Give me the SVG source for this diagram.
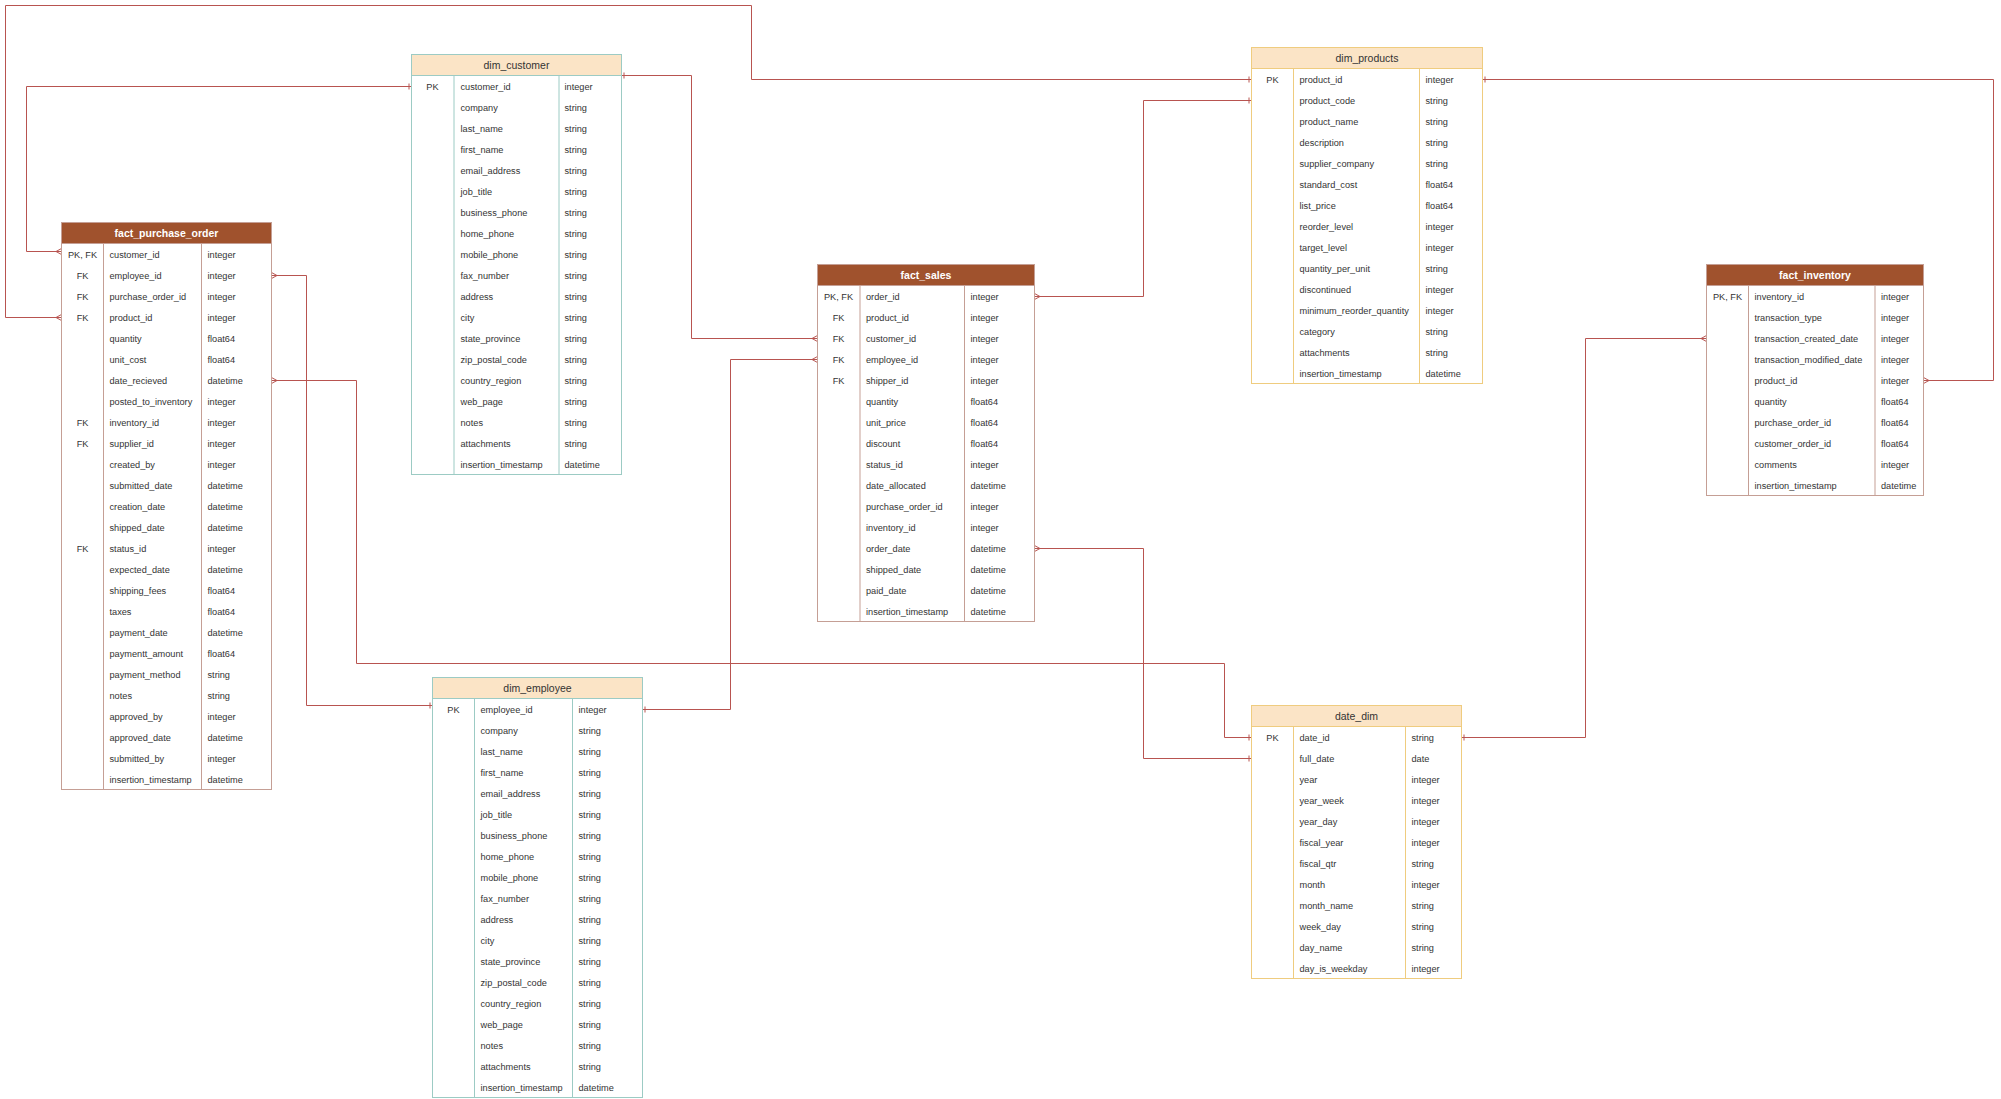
<svg xmlns="http://www.w3.org/2000/svg" width="2001" height="1099" viewBox="0 0 2001 1099">
  <style>
    text { font-family: "Liberation Sans", Arial, sans-serif; fill: #333333; }
    .cell { font-size: 9.2px; dominant-baseline: central; }
    .key { text-anchor: middle; }
    .title { font-size: 10.5px; text-anchor: middle; dominant-baseline: central; }
    .fact .title { fill: #ffffff; font-weight: bold; }
    .fact .frame { fill: #ffffff; stroke: #c59f95; stroke-width: 1; }
    .fact .head { fill: #a0522d; stroke: #c59f95; stroke-width: 1; }
    .fact .div { stroke: #c59f95; stroke-width: 1; }
    .teal .frame { fill: #ffffff; stroke: #9ccbc4; stroke-width: 1; }
    .teal .head { fill: #fbe4c6; stroke: #9ccbc4; stroke-width: 1; }
    .teal .div { stroke: #9ccbc4; stroke-width: 1; }
    .gold .frame { fill: #ffffff; stroke: #efcc7f; stroke-width: 1; }
    .gold .head { fill: #fbe4c6; stroke: #efcc7f; stroke-width: 1; }
    .gold .div { stroke: #efcc7f; stroke-width: 1; }
    .rel { fill: none; stroke: #b85450; stroke-width: 1; marker-start: url(#one); marker-end: url(#many); }
  </style>
  <defs>
    <!-- single bar at the "one" side -->
    <marker id="one" markerUnits="userSpaceOnUse" orient="auto-start-reverse" markerWidth="10" markerHeight="10" refX="0" refY="0" viewBox="-5 -5 10 10" overflow="visible">
      <path d="M-2.5,-3 L-2.5,3" stroke="#b85450" stroke-width="1" fill="none"/>
    </marker>
    <!-- crow's foot at the "many" side -->
    <marker id="many" markerUnits="userSpaceOnUse" orient="auto" markerWidth="10" markerHeight="10" refX="0" refY="0" viewBox="-6 -5 10 10" overflow="visible">
      <path d="M-5.5,0 L0,-3 M-5.5,0 L0,3" stroke="#b85450" stroke-width="1" fill="none"/>
    </marker>
  </defs>
  <rect width="2001" height="1099" fill="#ffffff"/>

  <!-- relationships -->
  <g id="connectors">
    <path class="rel" d="M1251.5,79.5 H751.5 V5.5 H5.5 V317.5 H61.5"/>
    <path class="rel" d="M411.5,86.5 H26.5 V251.5 H61.5"/>
    <path class="rel" d="M621.5,75.5 H691.5 V338.5 H817.5"/>
    <path class="rel" d="M642.5,709.5 H730.5 V359.5 H817.5"/>
    <path class="rel" d="M432.5,705.5 H306.5 V275.5 H271.5"/>
    <path class="rel" d="M1251.5,737.5 H1224.5 V663.5 H356.5 V380.5 H271.5"/>
    <path class="rel" d="M1251.5,758.5 H1143.5 V548.5 H1034.5"/>
    <path class="rel" d="M1251.5,100.5 H1143.5 V296.5 H1034.5"/>
    <path class="rel" d="M1482.5,79.5 H1993.5 V380.5 H1923.5"/>
    <path class="rel" d="M1461.5,737.5 H1585.5 V338.5 H1706.5"/>
  </g>

  <!-- fact_purchase_order: 26 rows -->
  <g id="fact_purchase_order" class="fact" transform="translate(61.5,222.5)">
    <rect class="frame" x="0" y="0" width="210" height="567"/>
    <rect class="head" x="0" y="0" width="210" height="21"/>
    <line class="div" x1="42" y1="21" x2="42" y2="567"/>
    <line class="div" x1="140" y1="21" x2="140" y2="567"/>
    <text class="title" x="105" y="10.5">fact_purchase_order</text>
    <g class="cell">
      <text class="cell key" x="21" y="32">PK, FK</text>
      <text class="cell key" x="21" y="53">FK</text>
      <text class="cell key" x="21" y="74">FK</text>
      <text class="cell key" x="21" y="95">FK</text>
      <text class="cell key" x="21" y="200">FK</text>
      <text class="cell key" x="21" y="221">FK</text>
      <text class="cell key" x="21" y="326">FK</text>
      <text class="cell" x="48" y="32">customer_id</text>
      <text class="cell" x="48" y="53">employee_id</text>
      <text class="cell" x="48" y="74">purchase_order_id</text>
      <text class="cell" x="48" y="95">product_id</text>
      <text class="cell" x="48" y="116">quantity</text>
      <text class="cell" x="48" y="137">unit_cost</text>
      <text class="cell" x="48" y="158">date_recieved</text>
      <text class="cell" x="48" y="179">posted_to_inventory</text>
      <text class="cell" x="48" y="200">inventory_id</text>
      <text class="cell" x="48" y="221">supplier_id</text>
      <text class="cell" x="48" y="242">created_by</text>
      <text class="cell" x="48" y="263">submitted_date</text>
      <text class="cell" x="48" y="284">creation_date</text>
      <text class="cell" x="48" y="305">shipped_date</text>
      <text class="cell" x="48" y="326">status_id</text>
      <text class="cell" x="48" y="347">expected_date</text>
      <text class="cell" x="48" y="368">shipping_fees</text>
      <text class="cell" x="48" y="389">taxes</text>
      <text class="cell" x="48" y="410">payment_date</text>
      <text class="cell" x="48" y="431">paymentt_amount</text>
      <text class="cell" x="48" y="452">payment_method</text>
      <text class="cell" x="48" y="473">notes</text>
      <text class="cell" x="48" y="494">approved_by</text>
      <text class="cell" x="48" y="515">approved_date</text>
      <text class="cell" x="48" y="536">submitted_by</text>
      <text class="cell" x="48" y="557">insertion_timestamp</text>
      <text class="cell" x="146" y="32">integer</text>
      <text class="cell" x="146" y="53">integer</text>
      <text class="cell" x="146" y="74">integer</text>
      <text class="cell" x="146" y="95">integer</text>
      <text class="cell" x="146" y="116">float64</text>
      <text class="cell" x="146" y="137">float64</text>
      <text class="cell" x="146" y="158">datetime</text>
      <text class="cell" x="146" y="179">integer</text>
      <text class="cell" x="146" y="200">integer</text>
      <text class="cell" x="146" y="221">integer</text>
      <text class="cell" x="146" y="242">integer</text>
      <text class="cell" x="146" y="263">datetime</text>
      <text class="cell" x="146" y="284">datetime</text>
      <text class="cell" x="146" y="305">datetime</text>
      <text class="cell" x="146" y="326">integer</text>
      <text class="cell" x="146" y="347">datetime</text>
      <text class="cell" x="146" y="368">float64</text>
      <text class="cell" x="146" y="389">float64</text>
      <text class="cell" x="146" y="410">datetime</text>
      <text class="cell" x="146" y="431">float64</text>
      <text class="cell" x="146" y="452">string</text>
      <text class="cell" x="146" y="473">string</text>
      <text class="cell" x="146" y="494">integer</text>
      <text class="cell" x="146" y="515">datetime</text>
      <text class="cell" x="146" y="536">integer</text>
      <text class="cell" x="146" y="557">datetime</text>
    </g>
  </g>

  <!-- dim_customer: 19 rows -->
  <g id="dim_customer" class="teal" transform="translate(411.5,54.5)">
    <rect class="frame" x="0" y="0" width="210" height="420"/>
    <rect class="head" x="0" y="0" width="210" height="21"/>
    <line class="div" x1="42.5" y1="21" x2="42.5" y2="420"/>
    <line class="div" x1="147.5" y1="21" x2="147.5" y2="420"/>
    <text class="title" x="105" y="10.5">dim_customer</text>
    <text class="cell key" x="21" y="32">PK</text>
    <text class="cell" x="49" y="32">customer_id</text>
    <text class="cell" x="49" y="53">company</text>
    <text class="cell" x="49" y="74">last_name</text>
    <text class="cell" x="49" y="95">first_name</text>
    <text class="cell" x="49" y="116">email_address</text>
    <text class="cell" x="49" y="137">job_title</text>
    <text class="cell" x="49" y="158">business_phone</text>
    <text class="cell" x="49" y="179">home_phone</text>
    <text class="cell" x="49" y="200">mobile_phone</text>
    <text class="cell" x="49" y="221">fax_number</text>
    <text class="cell" x="49" y="242">address</text>
    <text class="cell" x="49" y="263">city</text>
    <text class="cell" x="49" y="284">state_province</text>
    <text class="cell" x="49" y="305">zip_postal_code</text>
    <text class="cell" x="49" y="326">country_region</text>
    <text class="cell" x="49" y="347">web_page</text>
    <text class="cell" x="49" y="368">notes</text>
    <text class="cell" x="49" y="389">attachments</text>
    <text class="cell" x="49" y="410">insertion_timestamp</text>
    <text class="cell" x="153" y="32">integer</text>
    <text class="cell" x="153" y="53">string</text>
    <text class="cell" x="153" y="74">string</text>
    <text class="cell" x="153" y="95">string</text>
    <text class="cell" x="153" y="116">string</text>
    <text class="cell" x="153" y="137">string</text>
    <text class="cell" x="153" y="158">string</text>
    <text class="cell" x="153" y="179">string</text>
    <text class="cell" x="153" y="200">string</text>
    <text class="cell" x="153" y="221">string</text>
    <text class="cell" x="153" y="242">string</text>
    <text class="cell" x="153" y="263">string</text>
    <text class="cell" x="153" y="284">string</text>
    <text class="cell" x="153" y="305">string</text>
    <text class="cell" x="153" y="326">string</text>
    <text class="cell" x="153" y="347">string</text>
    <text class="cell" x="153" y="368">string</text>
    <text class="cell" x="153" y="389">string</text>
    <text class="cell" x="153" y="410">datetime</text>
  </g>

  <!-- dim_employee: 19 rows -->
  <g id="dim_employee" class="teal" transform="translate(432.5,677.5)">
    <rect class="frame" x="0" y="0" width="210" height="420"/>
    <rect class="head" x="0" y="0" width="210" height="21"/>
    <line class="div" x1="42" y1="21" x2="42" y2="420"/>
    <line class="div" x1="140" y1="21" x2="140" y2="420"/>
    <text class="title" x="105" y="10.5">dim_employee</text>
    <text class="cell key" x="21" y="32">PK</text>
    <text class="cell" x="48" y="32">employee_id</text>
    <text class="cell" x="48" y="53">company</text>
    <text class="cell" x="48" y="74">last_name</text>
    <text class="cell" x="48" y="95">first_name</text>
    <text class="cell" x="48" y="116">email_address</text>
    <text class="cell" x="48" y="137">job_title</text>
    <text class="cell" x="48" y="158">business_phone</text>
    <text class="cell" x="48" y="179">home_phone</text>
    <text class="cell" x="48" y="200">mobile_phone</text>
    <text class="cell" x="48" y="221">fax_number</text>
    <text class="cell" x="48" y="242">address</text>
    <text class="cell" x="48" y="263">city</text>
    <text class="cell" x="48" y="284">state_province</text>
    <text class="cell" x="48" y="305">zip_postal_code</text>
    <text class="cell" x="48" y="326">country_region</text>
    <text class="cell" x="48" y="347">web_page</text>
    <text class="cell" x="48" y="368">notes</text>
    <text class="cell" x="48" y="389">attachments</text>
    <text class="cell" x="48" y="410">insertion_timestamp</text>
    <text class="cell" x="146" y="32">integer</text>
    <text class="cell" x="146" y="53">string</text>
    <text class="cell" x="146" y="74">string</text>
    <text class="cell" x="146" y="95">string</text>
    <text class="cell" x="146" y="116">string</text>
    <text class="cell" x="146" y="137">string</text>
    <text class="cell" x="146" y="158">string</text>
    <text class="cell" x="146" y="179">string</text>
    <text class="cell" x="146" y="200">string</text>
    <text class="cell" x="146" y="221">string</text>
    <text class="cell" x="146" y="242">string</text>
    <text class="cell" x="146" y="263">string</text>
    <text class="cell" x="146" y="284">string</text>
    <text class="cell" x="146" y="305">string</text>
    <text class="cell" x="146" y="326">string</text>
    <text class="cell" x="146" y="347">string</text>
    <text class="cell" x="146" y="368">string</text>
    <text class="cell" x="146" y="389">string</text>
    <text class="cell" x="146" y="410">datetime</text>
  </g>

  <!-- fact_sales: 16 rows -->
  <g id="fact_sales" class="fact" transform="translate(817.5,264.5)">
    <rect class="frame" x="0" y="0" width="217" height="357"/>
    <rect class="head" x="0" y="0" width="217" height="21"/>
    <line class="div" x1="42.5" y1="21" x2="42.5" y2="357"/>
    <line class="div" x1="147" y1="21" x2="147" y2="357"/>
    <text class="title" x="108.5" y="10.5">fact_sales</text>
    <text class="cell key" x="21" y="32">PK, FK</text>
    <text class="cell key" x="21" y="53">FK</text>
    <text class="cell key" x="21" y="74">FK</text>
    <text class="cell key" x="21" y="95">FK</text>
    <text class="cell key" x="21" y="116">FK</text>
    <text class="cell" x="48.5" y="32">order_id</text>
    <text class="cell" x="48.5" y="53">product_id</text>
    <text class="cell" x="48.5" y="74">customer_id</text>
    <text class="cell" x="48.5" y="95">employee_id</text>
    <text class="cell" x="48.5" y="116">shipper_id</text>
    <text class="cell" x="48.5" y="137">quantity</text>
    <text class="cell" x="48.5" y="158">unit_price</text>
    <text class="cell" x="48.5" y="179">discount</text>
    <text class="cell" x="48.5" y="200">status_id</text>
    <text class="cell" x="48.5" y="221">date_allocated</text>
    <text class="cell" x="48.5" y="242">purchase_order_id</text>
    <text class="cell" x="48.5" y="263">inventory_id</text>
    <text class="cell" x="48.5" y="284">order_date</text>
    <text class="cell" x="48.5" y="305">shipped_date</text>
    <text class="cell" x="48.5" y="326">paid_date</text>
    <text class="cell" x="48.5" y="347">insertion_timestamp</text>
    <text class="cell" x="153" y="32">integer</text>
    <text class="cell" x="153" y="53">integer</text>
    <text class="cell" x="153" y="74">integer</text>
    <text class="cell" x="153" y="95">integer</text>
    <text class="cell" x="153" y="116">integer</text>
    <text class="cell" x="153" y="137">float64</text>
    <text class="cell" x="153" y="158">float64</text>
    <text class="cell" x="153" y="179">float64</text>
    <text class="cell" x="153" y="200">integer</text>
    <text class="cell" x="153" y="221">datetime</text>
    <text class="cell" x="153" y="242">integer</text>
    <text class="cell" x="153" y="263">integer</text>
    <text class="cell" x="153" y="284">datetime</text>
    <text class="cell" x="153" y="305">datetime</text>
    <text class="cell" x="153" y="326">datetime</text>
    <text class="cell" x="153" y="347">datetime</text>
  </g>

  <!-- dim_products: 15 rows -->
  <g id="dim_products" class="gold" transform="translate(1251.5,47.5)">
    <rect class="frame" x="0" y="0" width="231" height="336"/>
    <rect class="head" x="0" y="0" width="231" height="21"/>
    <line class="div" x1="42" y1="21" x2="42" y2="336"/>
    <line class="div" x1="168" y1="21" x2="168" y2="336"/>
    <text class="title" x="115.5" y="10.5">dim_products</text>
    <text class="cell key" x="21" y="32">PK</text>
    <text class="cell" x="48" y="32">product_id</text>
    <text class="cell" x="48" y="53">product_code</text>
    <text class="cell" x="48" y="74">product_name</text>
    <text class="cell" x="48" y="95">description</text>
    <text class="cell" x="48" y="116">supplier_company</text>
    <text class="cell" x="48" y="137">standard_cost</text>
    <text class="cell" x="48" y="158">list_price</text>
    <text class="cell" x="48" y="179">reorder_level</text>
    <text class="cell" x="48" y="200">target_level</text>
    <text class="cell" x="48" y="221">quantity_per_unit</text>
    <text class="cell" x="48" y="242">discontinued</text>
    <text class="cell" x="48" y="263">minimum_reorder_quantity</text>
    <text class="cell" x="48" y="284">category</text>
    <text class="cell" x="48" y="305">attachments</text>
    <text class="cell" x="48" y="326">insertion_timestamp</text>
    <text class="cell" x="174" y="32">integer</text>
    <text class="cell" x="174" y="53">string</text>
    <text class="cell" x="174" y="74">string</text>
    <text class="cell" x="174" y="95">string</text>
    <text class="cell" x="174" y="116">string</text>
    <text class="cell" x="174" y="137">float64</text>
    <text class="cell" x="174" y="158">float64</text>
    <text class="cell" x="174" y="179">integer</text>
    <text class="cell" x="174" y="200">integer</text>
    <text class="cell" x="174" y="221">string</text>
    <text class="cell" x="174" y="242">integer</text>
    <text class="cell" x="174" y="263">integer</text>
    <text class="cell" x="174" y="284">string</text>
    <text class="cell" x="174" y="305">string</text>
    <text class="cell" x="174" y="326">datetime</text>
  </g>

  <!-- fact_inventory: 10 rows -->
  <g id="fact_inventory" class="fact" transform="translate(1706.5,264.5)">
    <rect class="frame" x="0" y="0" width="217" height="231"/>
    <rect class="head" x="0" y="0" width="217" height="21"/>
    <line class="div" x1="42" y1="21" x2="42" y2="231"/>
    <line class="div" x1="168.5" y1="21" x2="168.5" y2="231"/>
    <text class="title" x="108.5" y="10.5">fact_inventory</text>
    <text class="cell key" x="21" y="32">PK, FK</text>
    <text class="cell" x="48" y="32">inventory_id</text>
    <text class="cell" x="48" y="53">transaction_type</text>
    <text class="cell" x="48" y="74">transaction_created_date</text>
    <text class="cell" x="48" y="95">transaction_modified_date</text>
    <text class="cell" x="48" y="116">product_id</text>
    <text class="cell" x="48" y="137">quantity</text>
    <text class="cell" x="48" y="158">purchase_order_id</text>
    <text class="cell" x="48" y="179">customer_order_id</text>
    <text class="cell" x="48" y="200">comments</text>
    <text class="cell" x="48" y="221">insertion_timestamp</text>
    <text class="cell" x="174.5" y="32">integer</text>
    <text class="cell" x="174.5" y="53">integer</text>
    <text class="cell" x="174.5" y="74">integer</text>
    <text class="cell" x="174.5" y="95">integer</text>
    <text class="cell" x="174.5" y="116">integer</text>
    <text class="cell" x="174.5" y="137">float64</text>
    <text class="cell" x="174.5" y="158">float64</text>
    <text class="cell" x="174.5" y="179">float64</text>
    <text class="cell" x="174.5" y="200">integer</text>
    <text class="cell" x="174.5" y="221">datetime</text>
  </g>

  <!-- date_dim: 12 rows -->
  <g id="date_dim" class="gold" transform="translate(1251.5,705.5)">
    <rect class="frame" x="0" y="0" width="210" height="273"/>
    <rect class="head" x="0" y="0" width="210" height="21"/>
    <line class="div" x1="42" y1="21" x2="42" y2="273"/>
    <line class="div" x1="154" y1="21" x2="154" y2="273"/>
    <text class="title" x="105" y="10.5">date_dim</text>
    <text class="cell key" x="21" y="32">PK</text>
    <text class="cell" x="48" y="32">date_id</text>
    <text class="cell" x="48" y="53">full_date</text>
    <text class="cell" x="48" y="74">year</text>
    <text class="cell" x="48" y="95">year_week</text>
    <text class="cell" x="48" y="116">year_day</text>
    <text class="cell" x="48" y="137">fiscal_year</text>
    <text class="cell" x="48" y="158">fiscal_qtr</text>
    <text class="cell" x="48" y="179">month</text>
    <text class="cell" x="48" y="200">month_name</text>
    <text class="cell" x="48" y="221">week_day</text>
    <text class="cell" x="48" y="242">day_name</text>
    <text class="cell" x="48" y="263">day_is_weekday</text>
    <text class="cell" x="160" y="32">string</text>
    <text class="cell" x="160" y="53">date</text>
    <text class="cell" x="160" y="74">integer</text>
    <text class="cell" x="160" y="95">integer</text>
    <text class="cell" x="160" y="116">integer</text>
    <text class="cell" x="160" y="137">integer</text>
    <text class="cell" x="160" y="158">string</text>
    <text class="cell" x="160" y="179">integer</text>
    <text class="cell" x="160" y="200">string</text>
    <text class="cell" x="160" y="221">string</text>
    <text class="cell" x="160" y="242">string</text>
    <text class="cell" x="160" y="263">integer</text>
  </g>
</svg>
